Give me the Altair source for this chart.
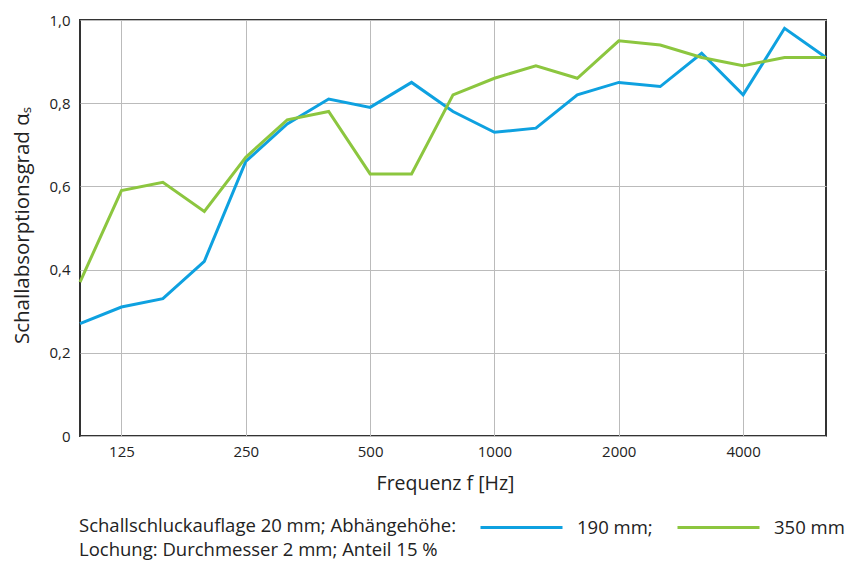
import altair as alt
import pandas as pd

# third-octave band centre frequencies (Hz)
freqs = [100, 125, 160, 200, 250, 315, 400, 500, 630, 800, 1000, 1250, 1600,
         2000, 2500, 3150, 4000, 5000, 6300]
alpha_190 = [0.27, 0.31, 0.33, 0.42, 0.66, 0.75, 0.81, 0.79, 0.85, 0.78, 0.73,
             0.74, 0.82, 0.85, 0.84, 0.92, 0.82, 0.98, 0.91]
alpha_350 = [0.37, 0.59, 0.61, 0.54, 0.67, 0.76, 0.78, 0.63, 0.63, 0.82, 0.86,
             0.89, 0.86, 0.95, 0.94, 0.91, 0.89, 0.91, 0.91]
series_names = ["190 mm;", "350 mm"]
series_colors = ["#0ea1e0", "#8cc63f"]
tick_freqs = [125, 250, 500, 1000, 2000, 4000]
y_ticks = [0, 0.2, 0.4, 0.6, 0.8, 1.0]
legend_prefix = ["Schallschluckauflage 20 mm; Abhängehöhe:"]
note_line = ["Lochung: Durchmesser 2 mm; Anteil 15 %"]

FONT = "Open Sans"
TXT = "#222222"

rows = []
for i, f in enumerate(freqs):
    rows.append({"idx": i, "freq": f, "alpha": alpha_190[i], "series": series_names[0]})
    rows.append({"idx": i, "freq": f, "alpha": alpha_350[i], "series": series_names[1]})
df = pd.DataFrame(rows)

tick_idx = [freqs.index(f) for f in tick_freqs]
label_expr = " : ".join(f"datum.value == {i} ? '{f}'" for i, f in zip(tick_idx, tick_freqs)) + " : ''"

lines = alt.Chart(df).mark_line(strokeWidth=3).encode(
    x=alt.X("idx:Q",
            scale=alt.Scale(domain=[0, len(freqs) - 1], nice=False, zero=False),
            axis=alt.Axis(values=tick_idx, labelExpr=label_expr, title="Frequenz f [Hz]",
                          grid=True, ticks=False, domain=False, labelPadding=8,
                          titleX=365, titleY=47, titleBaseline="middle")),
    y=alt.Y("alpha:Q",
            scale=alt.Scale(domain=[0, 1], nice=False),
            axis=alt.Axis(values=y_ticks,
                          labelExpr="datum.value == 0 ? '0' : replace(format(datum.value, '.1f'), '.', ',')",
                          title="Schallabsorptionsgrad  αₛ", grid=True, ticks=False,
                          domain=False, labelPadding=10, titleFontSize=20.5,
                          titleX=-58, titleY=205, titleBaseline="middle", titleAlign="center")),
    color=alt.Color("series:N",
                    scale=alt.Scale(domain=series_names, range=series_colors),
                    legend=alt.Legend(title=None,
                                      orient="none", direction="horizontal",
                                      legendX=399, legendY=465,
                                      symbolType="stroke", symbolSize=6724,
                                      symbolStrokeWidth=3, labelOffset=13,
                                      columnPadding=18,
                                      labelLimit=500)),
)

prefix = alt.Chart(pd.DataFrame({"t": legend_prefix})).mark_text(
    align="left", baseline="middle", font=FONT, fontSize=18.5, color=TXT
).encode(text="t:N", x=alt.value(-1), y=alt.value(506))

note = alt.Chart(pd.DataFrame({"t": note_line})).mark_text(
    align="left", baseline="middle", font=FONT, fontSize=18.5, color=TXT
).encode(text="t:N", x=alt.value(-1), y=alt.value(530))

chart = (lines + prefix + note).properties(
    width=746, height=416,
    autosize=alt.AutoSizeParams(type="none"),
    padding={"left": 72, "top": 12, "right": 20, "bottom": 124},
).configure_view(
    stroke="#333333", strokeWidth=2
).configure_axis(
    labelFont=FONT, titleFont=FONT, labelFontSize=15, titleFontSize=19.5,
    labelColor=TXT, titleColor=TXT, titleFontWeight="normal",
    gridColor="#bbbbbb", gridWidth=1,
).configure_legend(
    labelFont=FONT, labelFontSize=18.5, labelColor=TXT,
)

chart.save("out.html", embed_options={"renderer": "svg", "actions": False})
